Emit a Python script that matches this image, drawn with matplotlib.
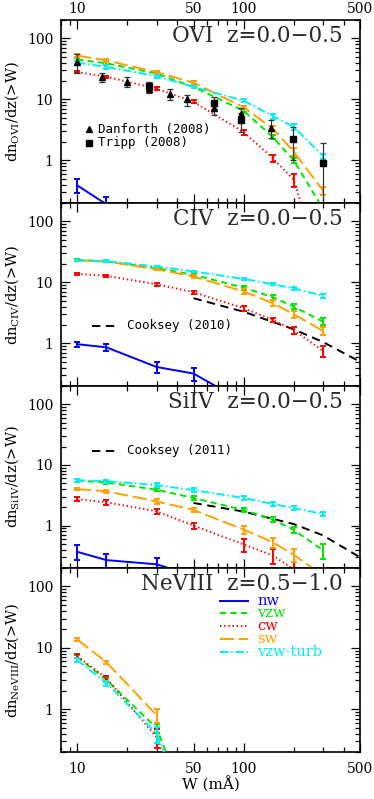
import numpy as np
import matplotlib
matplotlib.use('Agg')
import matplotlib.pyplot as plt
from matplotlib.ticker import FixedLocator, FixedFormatter, NullFormatter

plt.rcParams['font.family'] = ['DejaVu Serif', 'DejaVu Sans']
plt.rcParams['mathtext.fontset'] = 'dejavuserif'
plt.rcParams['lines.scale_dashes'] = False

nan = np.nan

# ---------------- data ----------------
W = [10, 15, 30, 50, 100, 150, 200, 300]
models = ['nw', 'vzw', 'cw', 'sw', 'vzw-turb']

# OVI z=0.0-0.5
ovi_nw = [0.39, 0.19, nan, nan, nan, nan, nan, nan]
ovi_vzw = [45, 39, 26.5, 16, 6.5, 2.4, 1.0, 0.16]
ovi_cw = [28, 23.5, 15, 9.1, 2.9, 1.08, 0.48, 0.013]
ovi_sw = [52, 43.5, 28, 18.7, 7.4, 3.3, 1.38, 0.32]
ovi_turb = [40, 34, 24, 16, 9.5, 5.3, 3.55, 1.17]
ovi_nw_err = [0.1, 0.06, nan, nan, nan, nan, nan, nan]
ovi_vzw_err = [3, 2, 1.2, 0.8, 0.4, 0.2, 0.1, 0.03]
ovi_cw_err = [1.2, 1.0, 0.8, 0.5, 0.25, 0.15, 0.12, 0.005]
ovi_sw_err = [3, 2.5, 1.5, 1.0, 0.5, 0.3, 0.2, 0.05]
ovi_turb_err = [2.5, 2, 1.2, 0.8, 0.6, 0.5, 0.35, 0.12]

# CIV z=0.0-0.5
civ_nw = [0.97, 0.86, 0.41, 0.32, 0.11, nan, nan, nan]
civ_vzw = [23.4, 22, 17.1, 13.3, 8.2, 5.7, 4.0, 2.27]
civ_cw = [13.8, 12.8, 9.3, 6.9, 3.76, 2.42, 1.65, 0.75]
civ_sw = [22.9, 22, 16.4, 12.5, 7.1, 4.55, 3.0, 1.6]
civ_turb = [22.9, 22.3, 18.2, 15.1, 11.4, 9.3, 8.0, 6.0]
civ_nw_err = [0.1, 0.1, 0.08, 0.08, 0.04, nan, nan, nan]
civ_vzw_err = [0.8, 0.7, 0.6, 0.5, 0.6, 0.5, 0.4, 0.3]
civ_cw_err = [0.5, 0.5, 0.5, 0.45, 0.35, 0.2, 0.2, 0.16]
civ_sw_err = [0.8, 0.7, 0.6, 0.7, 0.7, 0.5, 0.4, 0.25]
civ_turb_err = [0.8, 0.7, 0.6, 0.5, 0.4, 0.4, 0.4, 0.4]

# SiIV z=0.0-0.5
siiv_nw = [0.37, 0.27, 0.23, 0.15, nan, nan, nan, nan]
siiv_vzw = [5.5, 5.15, 3.9, 2.85, 1.81, 1.26, 0.85, 0.39]
siiv_cw = [2.74, 2.42, 1.72, 1.0, 0.49, 0.32, 0.19, 0.05]
siiv_sw = [4.0, 3.67, 2.51, 1.81, 0.86, 0.53, 0.33, 0.15]
siiv_turb = [5.6, 5.4, 4.66, 3.85, 2.85, 2.27, 1.95, 1.55]
siiv_nw_err = [0.1, 0.07, 0.06, 0.05, nan, nan, nan, nan]
siiv_vzw_err = [0.3, 0.3, 0.25, 0.2, 0.15, 0.12, 0.1, 0.11]
siiv_cw_err = [0.2, 0.2, 0.18, 0.12, 0.12, 0.09, 0.06, 0.02]
siiv_sw_err = [0.2, 0.2, 0.2, 0.15, 0.12, 0.1, 0.08, 0.05]
siiv_turb_err = [0.3, 0.3, 0.3, 0.25, 0.2, 0.18, 0.15, 0.13]

# NeVIII z=0.5-1.0
ne_nw = [nan, nan, nan, nan, nan, nan, nan, nan]
ne_vzw = [7.1, 3.0, 0.49, 0.015, nan, nan, nan, nan]
ne_cw = [7.3, 3.2, 0.35, 0.01, nan, nan, nan, nan]
ne_sw = [13.7, 5.8, 0.80, nan, nan, nan, nan, nan]
ne_turb = [6.3, 2.67, 0.40, 0.015, nan, nan, nan, nan]
ne_nw_err = [nan] * 8
ne_vzw_err = [0.4, 0.25, 0.08, 0.005, nan, nan, nan, nan]
ne_cw_err = [0.5, 0.3, 0.12, 0.005, nan, nan, nan, nan]
ne_sw_err = [0.6, 0.4, 0.2, nan, nan, nan, nan, nan]
ne_turb_err = [0.4, 0.25, 0.12, 0.005, nan, nan, nan, nan]

# Observations (OVI)
dan_W = [10, 14.2, 20, 27, 36, 46, 66, 96, 146]
dan_n = [41, 23.5, 19.5, 15, 12.2, 10, 7.1, 5.8, 3.4]
dan_lo = [27.3, 19.5, 16.1, 12.5, 9.8, 7.8, 5.5, 4.6, 2.3]
dan_hi = [54.6, 27.3, 22.9, 17.5, 14.7, 11.8, 9.0, 7.2, 4.6]
tri_W = [27, 66, 96, 197, 298]
tri_n = [16.5, 8.8, 4.6, 2.2, 0.91]
tri_lo = [14, 7.0, 2.9, 1.0, 0.1]
tri_hi = [19, 11, 6.0, 3.5, 1.93]

# Cooksey fits
cook10_W = [50, 100, 200, 300, 500]
cook10_n = [5.5, 3.3, 1.7, 1.05, 0.5]
cook11_W = [50, 100, 200, 300, 500]
cook11_n = [2.36, 1.7, 1.06, 0.69, 0.30]

titles = ['OVI  z=0.0\u22120.5', 'CIV  z=0.0\u22120.5', 'SiIV  z=0.0\u22120.5', 'NeVIII  z=0.5\u22121.0']
ylabels = [r'dn$_{\rm OVI}$/dz(>W)', r'dn$_{\rm CIV}$/dz(>W)', r'dn$_{\rm SiIV}$/dz(>W)', r'dn$_{\rm NeVIII}$/dz(>W)']
xticks = [10, 50, 100, 500]
xtick_labels = ['10', '50', '100', '500']
yticks = [1, 10, 100]
ytick_labels = ['1', '10', '100']

# ---------------- styles ----------------
colors = {'nw': '#0000ff', 'vzw': '#00e600', 'cw': '#ff0000', 'sw': '#ffa000', 'vzw-turb': '#00f0f0'}
styles = {'nw': '-', 'vzw': (0, (4.5, 3)), 'cw': (0, (1, 2)), 'sw': (0, (10, 3.5)),
          'vzw-turb': (0, (6, 2, 1.2, 2))}
LW = 1.4

panels = [
    (dict(zip(models, [ovi_nw, ovi_vzw, ovi_cw, ovi_sw, ovi_turb])),
     dict(zip(models, [ovi_nw_err, ovi_vzw_err, ovi_cw_err, ovi_sw_err, ovi_turb_err]))),
    (dict(zip(models, [civ_nw, civ_vzw, civ_cw, civ_sw, civ_turb])),
     dict(zip(models, [civ_nw_err, civ_vzw_err, civ_cw_err, civ_sw_err, civ_turb_err]))),
    (dict(zip(models, [siiv_nw, siiv_vzw, siiv_cw, siiv_sw, siiv_turb])),
     dict(zip(models, [siiv_nw_err, siiv_vzw_err, siiv_cw_err, siiv_sw_err, siiv_turb_err]))),
    (dict(zip(models, [ne_nw, ne_vzw, ne_cw, ne_sw, ne_turb])),
     dict(zip(models, [ne_nw_err, ne_vzw_err, ne_cw_err, ne_sw_err, ne_turb_err]))),
]

fig = plt.figure(figsize=(3.74, 7.99), dpi=100)
left = 61 / 374
width = (360 - 61) / 374
tops = [20, 203, 386, 568, 752]
axes = []
for i in range(4):
    b = 1 - tops[i + 1] / 799
    h = (tops[i + 1] - tops[i]) / 799
    axes.append(fig.add_axes([left, b, width, h]))

for i, ax in enumerate(axes):
    vals, errs = panels[i]
    ax.set_xscale('log')
    ax.set_yscale('log')
    for m in models:
        ax.plot(W, vals[m], color=colors[m], linestyle=styles[m], lw=LW, zorder=3)
        ax.errorbar(W, vals[m], yerr=errs[m], fmt='none', ecolor=colors[m],
                    elinewidth=LW, capsize=2.4, capthick=LW, zorder=3)
    ax.set_xlim(8, 500)
    ax.set_ylim(0.2, 200)
    ax.text(0.942, 0.88, titles[i], transform=ax.transAxes, ha='right', va='baseline',
            fontsize=15.5, color='#2a2a2a', family='DejaVu Serif')
    ax.set_ylabel(ylabels[i], fontsize=10.5)
    ax.yaxis.set_label_coords(-0.135, 0.5)

    ax.xaxis.set_major_locator(FixedLocator(xticks))
    ax.xaxis.set_major_formatter(FixedFormatter(xtick_labels))
    ax.xaxis.set_minor_locator(FixedLocator([8, 9, 20, 30, 40, 60, 70, 80, 90, 200, 300, 400]))
    ax.xaxis.set_minor_formatter(NullFormatter())
    ax.yaxis.set_major_locator(FixedLocator(yticks))
    ax.yaxis.set_major_formatter(FixedFormatter(ytick_labels))
    ax.yaxis.set_minor_locator(FixedLocator([0.2, 0.3, 0.4, 0.5, 0.6, 0.7, 0.8, 0.9,
                                             2, 3, 4, 5, 6, 7, 8, 9,
                                             20, 30, 40, 50, 60, 70, 80, 90, 200]))
    ax.yaxis.set_minor_formatter(NullFormatter())
    ax.tick_params(which='both', direction='in', top=True, right=True, width=0.9,
                   labelsize=10)
    ax.tick_params(which='major', length=6.5)
    ax.tick_params(which='minor', length=3.5)
    ax.tick_params(axis='y', pad=5.5)
    ax.tick_params(axis='x', labelbottom=(i == 3), labeltop=(i == 0))
    if i == 0:
        ax.tick_params(axis='x', pad=3)
    if i == 3:
        ax.tick_params(axis='x', pad=7)
    for s in ax.spines.values():
        s.set_linewidth(1.2)

# Observations in OVI panel
ax = axes[0]
dan_err = [np.array(dan_n) - np.array(dan_lo), np.array(dan_hi) - np.array(dan_n)]
tri_err = [np.array(tri_n) - np.array(tri_lo), np.array(tri_hi) - np.array(tri_n)]
ax.errorbar(dan_W, dan_n, yerr=dan_err, fmt='^', color='black', ms=5, ecolor='#333333',
            elinewidth=0.9, capsize=2.4, capthick=0.9, zorder=5)
ax.errorbar(tri_W, tri_n, yerr=tri_err, fmt='s', color='black', ms=4.5, ecolor='#333333',
            elinewidth=0.9, capsize=2.4, capthick=0.9, zorder=5)
ax.plot([0.092], [0.404], '^', color='black', ms=5, transform=ax.transAxes)
ax.plot([0.092], [0.330], 's', color='black', ms=4.5, transform=ax.transAxes)
ax.text(0.124, 0.404, 'Danforth (2008)', transform=ax.transAxes, va='center',
        family='DejaVu Sans Mono', fontsize=9)
ax.text(0.124, 0.330, 'Tripp (2008)', transform=ax.transAxes, va='center',
        family='DejaVu Sans Mono', fontsize=9)

# Cooksey fits
cook_style = (0, (6, 4))
axes[1].plot(cook10_W, cook10_n, color='black', linestyle=cook_style, lw=LW, zorder=2)
axes[1].plot([0.104, 0.181], [0.328, 0.328], color='black', linestyle=cook_style, lw=LW,
             transform=axes[1].transAxes)
axes[1].text(0.221, 0.328, 'Cooksey (2010)', transform=axes[1].transAxes, va='center',
             family='DejaVu Sans Mono', fontsize=9)
axes[2].plot(cook11_W, cook11_n, color='black', linestyle=cook_style, lw=LW, zorder=2)
axes[2].plot([0.104, 0.181], [0.644, 0.644], color='black', linestyle=cook_style, lw=LW,
             transform=axes[2].transAxes)
axes[2].text(0.221, 0.644, 'Cooksey (2011)', transform=axes[2].transAxes, va='center',
             family='DejaVu Sans Mono', fontsize=9)

# Model legend in NeVIII panel
ax = axes[3]
rows = [0.822, 0.754, 0.686, 0.616, 0.546]
for m, yy in zip(models, rows):
    ax.plot([0.532, 0.625], [yy, yy], color=colors[m], linestyle=styles[m], lw=LW,
            transform=ax.transAxes)
    ax.text(0.656, yy, m, transform=ax.transAxes, va='center', color=colors[m],
            fontsize=10.5, family='DejaVu Serif')

axes[3].set_xlabel('W (m\u00c5)', fontsize=11)
axes[3].xaxis.set_label_coords(0.5, -0.135)

fig.savefig('out.png', dpi=100)
